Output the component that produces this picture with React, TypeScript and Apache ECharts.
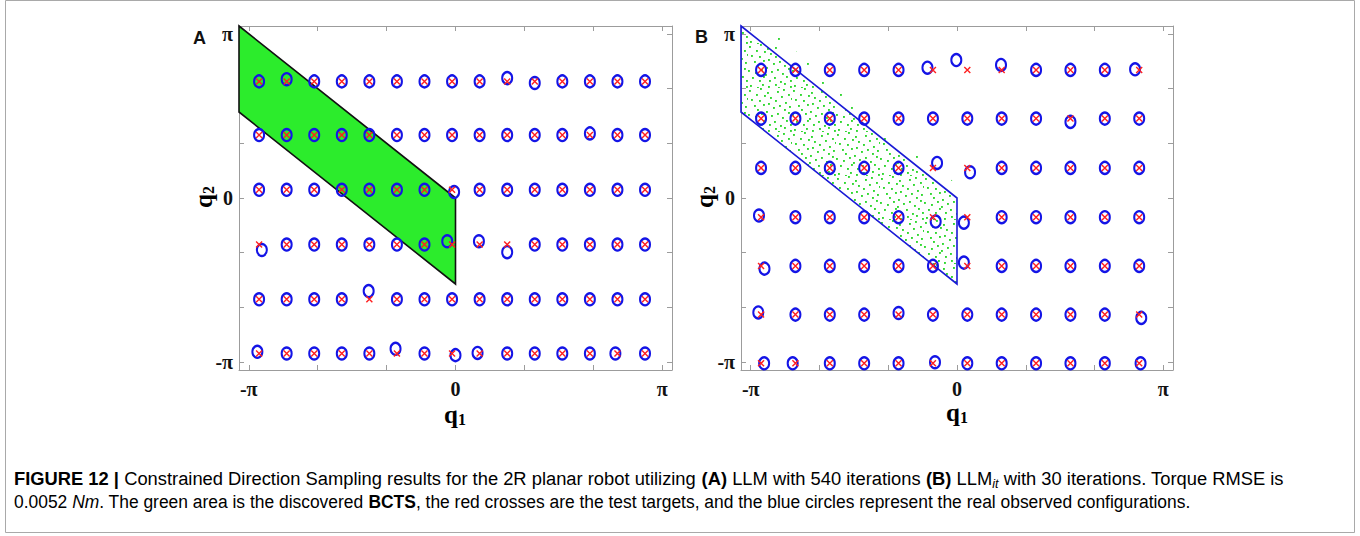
import React, { useEffect, useRef } from "react";
import * as echarts from "echarts";

const PI = Math.PI;

// axis ticks (integers) and the three labelled ticks
const AXIS_TICKS = [-3, -2, -1, 0, 1, 2, 3];
const LABELED_TICKS = [-3, 0, 3];
const TICK_TEXT: Record<string, string> = { "-3": "-π", "0": "0", "3": "π" };

// Panel A: test target grid (red crosses)
const A_COLS = [-2.85, -2.45, -2.05, -1.65, -1.25, -0.85, -0.45, -0.05, 0.35, 0.75, 1.15, 1.55, 1.95, 2.35, 2.75];
const A_ROWS = [-2.84, -1.85, -0.85, 0.15, 1.15, 2.13];
// Panel A: observed deviations of blue circles [colIndex, rowIndex, dq1, dq2]
const A_DEV = [
  [1, 5, 0, 0.04], [9, 5, 0, 0.06], [10, 5, 0, -0.03], [12, 4, 0, 0.03],
  [7, 3, 0.03, -0.04], [0, 2, 0.04, -0.1], [7, 2, -0.07, 0.06], [8, 2, -0.01, 0.06],
  [9, 2, 0, -0.14], [4, 1, -0.01, 0.15], [0, 0, -0.025, 0.03], [5, 0, -0.02, 0.085],
  [7, 0, 0.05, -0.03], [8, 0, -0.03, 0.01], [13, 0, -0.03, 0],
];

// Panel B: test target grid
const B_COLS = [-2.85, -2.35, -1.85, -1.35, -0.85, -0.35, 0.15, 0.65, 1.15, 1.65, 2.15, 2.65];
const B_ROWS = [-3.02, -2.13, -1.24, -0.35, 0.55, 1.45, 2.34];
const B_DEV = [
  [5, 6, -0.08, 0.04], [6, 6, -0.16, 0.18], [7, 6, -0.01, 0.09], [11, 6, -0.06, 0.01],
  [9, 5, 0, -0.06], [5, 4, 0.06, 0.09], [6, 4, 0.04, -0.08], [0, 3, -0.03, 0.03],
  [5, 3, 0.04, -0.08], [6, 3, -0.05, -0.1], [0, 2, 0.05, -0.05], [6, 2, -0.05, 0.06],
  [0, 1, -0.04, 0.04], [4, 1, 0, 0.03], [11, 1, 0.03, -0.06], [0, 0, 0.045, 0],
  [1, 0, -0.04, 0], [5, 0, 0.03, 0.02], [11, 0, 0.02, 0],
];

// BCTS region (parallelogram) vertices in (q1, q2)
const BCTS = [[-PI, PI], [0, 0], [0, -PI / 2], [-PI, PI / 2]];
// sparse fringe of samples above the region in panel B
const B_FRINGE = [[-2.75, 2.75], [-2.6, 2.95], [0.12, 0.12], [0, 0]];

// hand placed dot texture tiles (px within a 44px tile)
const DOTS_DENSE = [
  [1, 2], [8, 6], [12, 0], [19, 4], [22, 9], [29, 3], [35, 1], [40, 6],
  [3, 11], [11, 12], [16, 7], [20, 15], [27, 12], [33, 8], [37, 14], [43, 10],
  [6, 17], [9, 21], [15, 16], [18, 23], [25, 19], [31, 17], [36, 21], [41, 18],
  [0, 26], [7, 28], [13, 25], [17, 30], [23, 27], [29, 25], [34, 29], [40, 24],
  [4, 33], [11, 36], [15, 32], [21, 36], [26, 33], [32, 37], [38, 32], [42, 36],
  [2, 41], [9, 43], [14, 40], [20, 42], [27, 40], [30, 43], [36, 39], [42, 42],
];
const DOTS_SPARSE = [[4, 6], [27, 3], [15, 19], [36, 24], [8, 34], [30, 38]];

function gridPoints(cols: number[], rows: number[]) {
  const out: number[][] = [];
  rows.forEach((r) => cols.forEach((c) => out.push([c, r])));
  return out;
}
function observedPoints(cols: number[], rows: number[], dev: number[][]) {
  const out: number[][] = [];
  rows.forEach((r, ri) =>
    cols.forEach((c, ci) => {
      const d = dev.find((e) => e[0] === ci && e[1] === ri);
      out.push(d ? [c + d[2], r + d[3]] : [c, r]);
    })
  );
  return out;
}
function dotTile(dots: number[][], color: string) {
  const body = dots
    .map(([x, y]) => `<rect x="${x}" y="${y}" width="1.9" height="1.9" fill="${color}"/>`)
    .join("");
  const svg = `<svg xmlns="http://www.w3.org/2000/svg" width="44" height="44">${body}</svg>`;
  return {
    image: "data:image/svg+xml;charset=utf-8," + encodeURIComponent(svg),
    repeat: "repeat",
    imageWidth: 44,
    imageHeight: 44,
  };
}

const AXIS_COLOR = "#9c9c9c";
const SERIF = "'Liberation Serif', 'Times New Roman', serif";
const SANS = "'Liberation Sans', Arial, Helvetica, sans-serif";

function makeAxes(gridIndex: number, horizontal: boolean) {
  const base: any = {
    type: "value",
    min: -PI,
    max: PI,
    gridIndex,
    splitLine: { show: false },
    axisLine: { show: true, onZero: false, lineStyle: { color: AXIS_COLOR, width: 1 } },
    axisTick: { show: true, inside: true, length: 5, customValues: AXIS_TICKS, lineStyle: { color: AXIS_COLOR } },
  };
  const main = {
    ...base,
    position: horizontal ? "bottom" : "left",
    axisLabel: {
      show: true,
      customValues: LABELED_TICKS,
      formatter: (v: number) => TICK_TEXT[String(Math.round(v))] ?? "",
      fontFamily: SERIF,
      fontWeight: "bold",
      fontSize: 20,
      color: "#111",
      margin: horizontal ? 9 : 6,
    },
  };
  const other = { ...base, position: horizontal ? "top" : "right", axisLabel: { show: false } };
  return [main, other];
}

function polygonSeries(name: string, poly: number[][], xi: number, yi: number, style: any, z: number) {
  return {
    name,
    type: "custom",
    xAxisIndex: xi,
    yAxisIndex: yi,
    z,
    silent: true,
    data: poly,
    renderItem: (params: any, api: any) => {
      if (params.dataIndex !== 0) return null;
      const pts = poly.map((p) => api.coord(p));
      return { type: "polygon", shape: { points: pts }, style };
    },
  };
}

function markerSeries(xi: number, yi: number, targets: number[][], observed: number[][]) {
  return [
    {
      type: "scatter",
      xAxisIndex: xi,
      yAxisIndex: yi,
      z: 5,
      data: observed,
      symbol: "circle",
      symbolSize: [10, 12],
      itemStyle: { color: "rgba(0,0,0,0)", borderColor: "#1414e6", borderWidth: 2.2, opacity: 1 },
      silent: true,
    },
    {
      type: "scatter",
      xAxisIndex: xi,
      yAxisIndex: yi,
      z: 6,
      data: targets,
      symbol: "path://M0,0L10,10M10,0L0,10",
      symbolSize: 6,
      itemStyle: { color: "none", borderColor: "#ff1f1f", borderWidth: 1.4, opacity: 1 },
      silent: true,
    },
  ];
}

export default function App() {
  const ref = useRef<HTMLDivElement>(null);
  useEffect(() => {
    if (!ref.current) return;
    const chart = echarts.init(ref.current, null, { renderer: "svg" });

    const [xA, xAt] = makeAxes(0, true);
    const [xB, xBt] = makeAxes(1, true);
    const [yA, yAr] = makeAxes(0, false);
    const [yB, yBr] = makeAxes(1, false);

    const capRich: any = {
      n: { fontFamily: SANS, fontSize: 19, color: "#333", lineHeight: 24 },
      b: { fontFamily: SANS, fontSize: 19, fontWeight: "bold", color: "#222", lineHeight: 24 },
      i: { fontFamily: SANS, fontSize: 19, fontStyle: "italic", color: "#333", lineHeight: 24 },
      s: { fontFamily: SANS, fontSize: 13, fontStyle: "italic", color: "#333", lineHeight: 13, verticalAlign: "bottom" },
    };
    const qRich = (size: number, sub: number) => ({
      q: { fontFamily: SERIF, fontWeight: "bold", fontSize: size, color: "#111", lineHeight: 26 },
      s: { fontFamily: SERIF, fontWeight: "bold", fontSize: sub, color: "#111", lineHeight: 12, verticalAlign: "bottom" },
    });

    const option: any = {
      animation: false,
      backgroundColor: "#ffffff",
      grid: [
        { left: 239, top: 26, width: 433, height: 344 },
        { left: 741, top: 26, width: 432, height: 344 },
      ],
      xAxis: [xA, xAt, xB, xBt],
      yAxis: [yA, yAr, yB, yBr],
      series: [
        polygonSeries("BCTS A", BCTS, 0, 0, { fill: "#2cec2c", stroke: "#111", lineWidth: 1.6 }, 2),
        ...markerSeries(0, 0, gridPoints(A_COLS, A_ROWS), observedPoints(A_COLS, A_ROWS, A_DEV)),
        polygonSeries("BCTS B fringe", B_FRINGE, 2, 2, { fill: dotTile(DOTS_SPARSE, "#33d633"), stroke: null }, 1),
        polygonSeries("BCTS B", BCTS, 2, 2, { fill: dotTile(DOTS_DENSE, "#2fd82f"), stroke: "#1a1ad6", lineWidth: 1.6 }, 2),
        ...markerSeries(2, 2, gridPoints(B_COLS, B_ROWS), observedPoints(B_COLS, B_ROWS, B_DEV)),
      ],
      graphic: [
        { type: "rect", silent: true, shape: { x: 5.5, y: 0.5, width: 1349, height: 532 }, style: { fill: "none", stroke: "#a9a9a9", lineWidth: 1 } },
        { type: "text", x: 193, y: 38, style: { text: "A", font: `bold 18px ${SANS}`, fill: "#111", verticalAlign: "middle" } },
        { type: "text", x: 695, y: 37, style: { text: "B", font: `bold 18px ${SANS}`, fill: "#111", verticalAlign: "middle" } },
        { type: "text", x: 203, y: 197, rotation: PI / 2, style: { text: "{q|q}{s|2}", rich: qRich(25, 16), align: "center", verticalAlign: "middle" } },
        { type: "text", x: 704, y: 197, rotation: PI / 2, style: { text: "{q|q}{s|2}", rich: qRich(25, 16), align: "center", verticalAlign: "middle" } },
        { type: "text", x: 455, y: 414, style: { text: "{q|q}{s|1}", rich: qRich(25, 16), align: "center", verticalAlign: "middle" } },
        { type: "text", x: 957, y: 412, style: { text: "{q|q}{s|1}", rich: qRich(25, 16), align: "center", verticalAlign: "middle" } },
        {
          type: "text", x: 14, y: 478, scaleX: 0.966,
          style: {
            text: "{b|FIGURE 12 |}{n| Constrained Direction Sampling results for the 2R planar robot utilizing }{b|(A)}{n| LLM with 540 iterations }{b|(B)}{n| LLM}{s|it}{n| with 30 iterations. Torque RMSE is}",
            rich: capRich, verticalAlign: "middle",
          },
        },
        {
          type: "text", x: 14, y: 502, scaleX: 0.917,
          style: {
            text: "{n|0.0052 }{i|Nm}{n|. The green area is the discovered }{b|BCTS}{n|, the red crosses are the test targets, and the blue circles represent the real observed configurations.}",
            rich: capRich, verticalAlign: "middle",
          },
        },
      ],
    };
    chart.setOption(option);
    return () => chart.dispose();
  }, []);

  return (
    <div
      ref={ref}
      style={{ position: "absolute", left: 0, top: 0, width: 1360, height: 536, background: "#fff" }}
    />
  );
}
